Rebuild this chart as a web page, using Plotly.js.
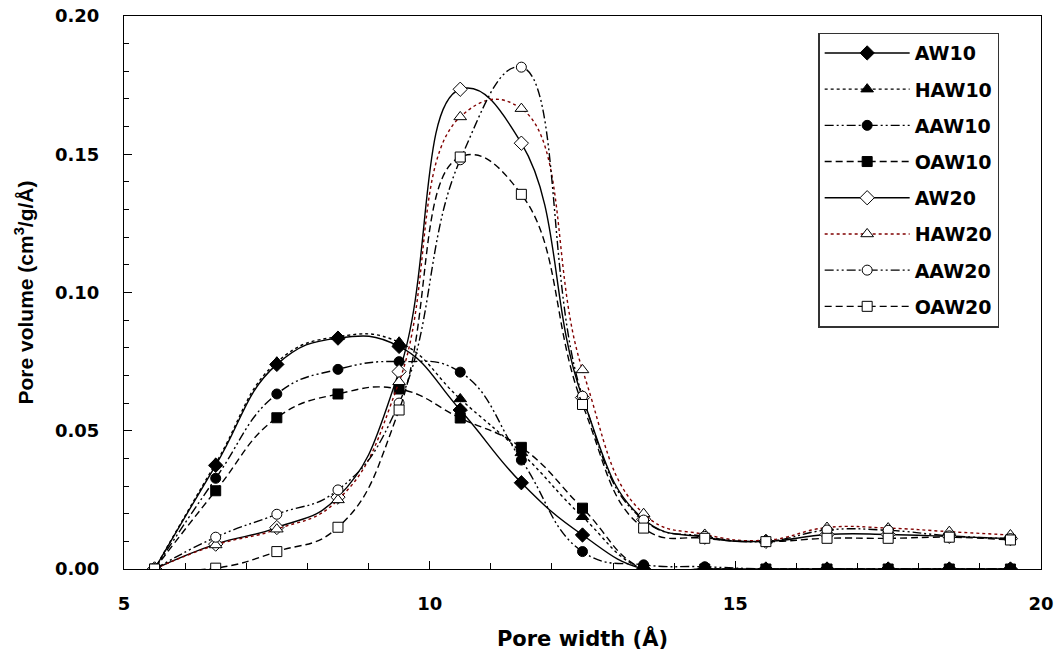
<!DOCTYPE html>
<html>
<head>
<meta charset="utf-8">
<script src="https://cdn.plot.ly/plotly-3.0.1.min.js"></script>
<style>html,body{margin:0;padding:0;background:#fff;}</style>
</head>
<body>
<div id="chart" style="width:1061px;height:664px;"></div>
<script>
const poreWidth = [5.5, 6.5, 7.5, 8.5, 9.5, 10.5, 11.5, 12.5, 13.5, 14.5, 15.5, 16.5, 17.5, 18.5, 19.5];

const AW10  = [0, 0.0375, 0.0740, 0.0835, 0.0805, 0.0575, 0.0312, 0.0123, 0, 0, 0, 0, 0, 0, 0];
const HAW10 = [0, 0.0382, 0.0748, 0.0840, 0.0820, 0.0615, 0.0420, 0.0189, 0, 0, 0, 0, 0, 0, 0];
const AAW10 = [0, 0.0328, 0.0633, 0.0722, 0.0750, 0.0712, 0.0394, 0.0063, 0.0015, 0.0008, 0, 0, 0, 0, 0];
const OAW10 = [0, 0.0283, 0.0547, 0.0633, 0.0651, 0.0546, 0.0440, 0.0220, 0, 0, 0, 0, 0, 0, 0];
const AW20  = [0, 0.0090, 0.0150, 0.0260, 0.0714, 0.1735, 0.1540, 0.0620, 0.0180, 0.0115, 0.0100, 0.0125, 0.0125, 0.0118, 0.0110];
const HAW20 = [0, 0.0087, 0.0144, 0.0250, 0.0677, 0.1635, 0.1665, 0.0720, 0.0200, 0.0125, 0.0104, 0.0150, 0.0148, 0.0135, 0.0123];
const AAW20 = [0, 0.0115, 0.0198, 0.0286, 0.0600, 0.1480, 0.1815, 0.0625, 0.0177, 0.0118, 0.0100, 0.0141, 0.0140, 0.0120, 0.0110];
const OAW20 = [0, 0.0003, 0.0063, 0.0151, 0.0575, 0.1490, 0.1355, 0.0595, 0.0148, 0.0111, 0.0099, 0.0111, 0.0111, 0.0115, 0.0105];

const seriesNames = ['AW10', 'HAW10', 'AAW10', 'OAW10', 'AW20', 'HAW20', 'AAW20', 'OAW20'];
const seriesData = [AW10, HAW10, AAW10, OAW10, AW20, HAW20, AAW20, OAW20];

const dashDotDot = '9px,3px,2px,3px,2px,3px';
const styles = [
  {dash: 'solid', color: '#000', sym: 'diamond', fill: '#000', size: 11},
  {dash: 'dot', color: '#000', sym: 'triangle-up', fill: '#000', size: 11},
  {dash: dashDotDot, color: '#000', sym: 'circle', fill: '#000', size: 10},
  {dash: '7px,4px', color: '#000', sym: 'square', fill: '#000', size: 10},
  {dash: 'solid', color: '#000', sym: 'diamond', fill: '#fff', size: 11},
  {dash: 'dot', color: '#800000', sym: 'triangle-up', fill: '#fff', size: 11},
  {dash: dashDotDot, color: '#000', sym: 'circle', fill: '#fff', size: 10},
  {dash: '7px,4px', color: '#000', sym: 'square', fill: '#fff', size: 10}
];

const traces = seriesNames.map((name, i) => ({
  x: poreWidth,
  y: seriesData[i],
  name: name,
  type: 'scatter',
  mode: 'lines+markers',
  legendgroup: name,
  line: {color: styles[i].color, width: 1.4, dash: styles[i].dash, shape: 'spline', smoothing: 1.3},
  marker: {symbol: styles[i].sym, size: styles[i].size, color: styles[i].fill, line: {color: '#000', width: 1}}
}));

const wideFont = {family: '"DejaVu Sans", Verdana, sans-serif', color: '#000', weight: 'bold'};
const arialFont = {family: 'Arial, "Liberation Sans", sans-serif', color: '#000', weight: 'bold'};

const layout = {
  width: 1061,
  height: 664,
  margin: {l: 124, r: 20, t: 16, b: 95},
  paper_bgcolor: '#fff',
  plot_bgcolor: '#fff',
  showlegend: true,
  legend: {
    x: 0.757, y: 0.97, xanchor: 'left', yanchor: 'top',
    bordercolor: '#333', borderwidth: 1.5, bgcolor: '#fff',
    font: Object.assign({}, wideFont, {size: 19}),
    traceorder: 'grouped', tracegroupgap: 8.5, itemwidth: 85
  },
  xaxis: {
    range: [5, 20], dtick: 5, tick0: 5,
    ticks: 'inside', ticklen: 8, tickcolor: '#000',
    minor: {dtick: 1, ticks: 'inside', ticklen: 6, tickcolor: '#000'},
    showgrid: false, zeroline: false,
    showline: true, mirror: true, linecolor: '#000', linewidth: 1,
    ticklabelstandoff: 18,
    tickfont: Object.assign({}, wideFont, {size: 18}),
    title: {text: 'Pore width (Å)', font: Object.assign({}, wideFont, {size: 21}), standoff: 18}
  },
  yaxis: {
    range: [0, 0.2], dtick: 0.05, tick0: 0, tickformat: '.2f',
    ticks: 'inside', ticklen: 8, tickcolor: '#000',
    minor: {dtick: 0.01, ticks: 'inside', ticklen: 5, tickcolor: '#000'},
    showgrid: false, zeroline: false,
    showline: true, mirror: true, linecolor: '#000', linewidth: 1,
    ticklabelstandoff: 20,
    tickfont: Object.assign({}, wideFont, {size: 18}),
    title: {text: 'Pore volume (cm<sup>3</sup>/g/Å)', font: Object.assign({}, arialFont, {size: 21}), standoff: 15}
  }
};

Plotly.newPlot('chart', traces, layout, {staticPlot: true, displayModeBar: false});
</script>
</body>
</html>
